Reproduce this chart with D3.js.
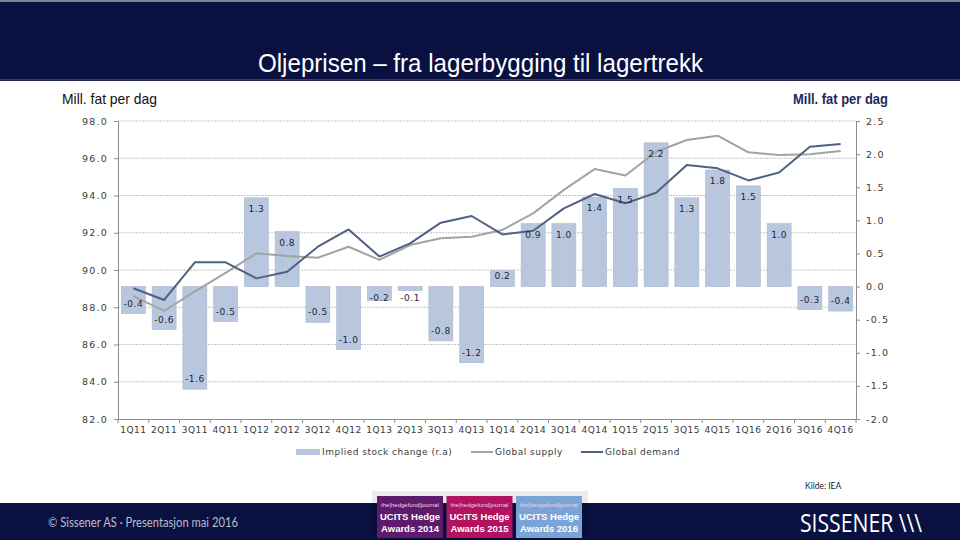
<!DOCTYPE html>
<html><head><meta charset="utf-8">
<script src="https://cdn.jsdelivr.net/npm/d3@7/dist/d3.min.js"></script>
<style>
html,body{margin:0;padding:0;background:#fff;}
svg{display:block;}
</style></head>
<body>
<svg id="chart" width="960" height="540"></svg>
<script>
// ---------- data ----------
const categories = ["1Q11","2Q11","3Q11","4Q11","1Q12","2Q12","3Q12","4Q12","1Q13","2Q13","3Q13","4Q13",
                    "1Q14","2Q14","3Q14","4Q14","1Q15","2Q15","3Q15","4Q15","1Q16","2Q16","3Q16","4Q16"];
const stockChange = [-0.41,-0.65,-1.55,-0.53,1.34,0.83,-0.54,-0.95,-0.21,-0.06,-0.82,-1.15,
                     0.24,0.95,0.95,1.35,1.48,2.17,1.34,1.76,1.52,0.95,-0.35,-0.37];
const stockLabels = ["-0.4","-0.6","-1.6","-0.5","1.3","0.8","-0.5","-1.0","-0.2","-0.1","-0.8","-1.2",
                     "0.2","0.9","1.0","1.4","1.5","2.2","1.3","1.8","1.5","1.0","-0.3","-0.4"];
const globalSupply = [88.60,87.80,88.85,89.85,90.90,90.75,90.66,91.25,90.54,91.34,91.70,91.79,
                      92.15,93.04,94.30,95.42,95.07,96.35,96.98,97.21,96.32,96.17,96.21,96.39];
const globalDemand = [89.02,88.39,90.41,90.41,89.55,89.91,91.25,92.18,90.72,91.43,92.54,92.90,
                      91.91,92.11,93.31,94.08,93.58,94.15,95.64,95.46,94.81,95.23,96.62,96.77];
const leftTicks = [82,84,86,88,90,92,94,96,98];
const rightTicks = [-2,-1.5,-1,-0.5,0,0.5,1,1.5,2,2.5];
const legendLabels = ["Implied stock change (r.a)","Global supply","Global demand"];
const titleText = "Oljeprisen – fra lagerbygging til lagertrekk";
const unitText = "Mill. fat per dag";
const sourceText = "Kilde: IEA";
const footerText = "© Sissener AS  · Presentasjon mai 2016";
const awardYears = ["2014","2015","2016"];

// ---------- layout ----------
const svg = d3.select("#chart");
const NAVY = "#0a1141";
const plot = {left:118, right:856, top:121, bottom:419};
const numFmt = v => d3.format(".1f")(v).replace("−","-");
const narrow = "'Liberation Sans',Arial,sans-serif";

// header
svg.append("rect").attr("x",0).attr("y",0).attr("width",960).attr("height",81).attr("fill",NAVY);
svg.append("rect").attr("x",0).attr("y",0).attr("width",960).attr("height",2).attr("fill","#7d8296");
svg.append("rect").attr("x",0).attr("y",79).attr("width",960).attr("height",1.5).attr("fill","#3b4266");
svg.append("text").attr("x",258).attr("y",72)
  .attr("font-family",narrow).attr("font-size",25)
  .attr("textLength",445).attr("lengthAdjust","spacingAndGlyphs")
  .attr("fill","#fff").text(titleText);

// unit labels
svg.append("text").attr("x",62).attr("y",104)
  .attr("font-family",narrow).attr("font-size",15)
  .attr("textLength",95).attr("lengthAdjust","spacingAndGlyphs")
  .attr("fill","#111").text(unitText);
svg.append("text").attr("x",793).attr("y",104)
  .attr("font-family",narrow).attr("font-size",14)
  .attr("textLength",95).attr("lengthAdjust","spacingAndGlyphs")
  .attr("font-weight","bold").attr("fill","#1b2a5c").text(unitText);

// scales
const x = d3.scaleBand().domain(categories).range([plot.left,plot.right]).paddingInner(0.22).paddingOuter(0.11);
const yL = d3.scaleLinear().domain([82,98]).range([plot.bottom,plot.top]);
const yR = d3.scaleLinear().domain([-2,2.5]).range([plot.bottom,plot.top]);

const tickFont = "'DejaVu Sans',Verdana,sans-serif";

// gridlines
svg.append("g").selectAll("line").data(leftTicks.filter(d=>d>82)).join("line")
  .attr("x1",plot.left).attr("x2",plot.right)
  .attr("y1",d=>yL(d)).attr("y2",d=>yL(d))
  .attr("stroke","#c4c4c4").attr("stroke-width",1).attr("stroke-dasharray","2,1");

// bars
const data = categories.map((c,i)=>({c, v:stockChange[i], lab:stockLabels[i], s:globalSupply[i], d:globalDemand[i]}));
svg.append("g").selectAll("rect").data(data).join("rect")
  .attr("x",d=>x(d.c)).attr("width",x.bandwidth())
  .attr("y",d=>Math.min(yR(d.v),yR(0))).attr("height",d=>Math.abs(yR(d.v)-yR(0)))
  .attr("fill","#b8c7dd").attr("stroke","#a7b7cf").attr("stroke-width",0.6);

// lines
const lineGen = acc => d3.line().x(d=>x(d.c)+x.bandwidth()/2).y(d=>yL(acc(d)));
svg.append("path").datum(data).attr("d",lineGen(d=>d.s)).attr("fill","none")
  .attr("stroke","#a3a3a3").attr("stroke-width",2).attr("stroke-linejoin","round");
svg.append("path").datum(data).attr("d",lineGen(d=>d.d)).attr("fill","none")
  .attr("stroke","#4f6183").attr("stroke-width",2).attr("stroke-linejoin","round");

// bar labels
svg.append("g").selectAll("text").data(data).join("text")
  .attr("x",d=>x(d.c)+x.bandwidth()/2)
  .attr("y",d=>{
    const z=yR(0);
    if(d.v>=0){ return Math.min(yR(d.v)+11, z-10.5); }
    return Math.max(yR(d.v)-10, z+11);
  })
  .attr("dy","0.35em").attr("text-anchor","middle")
  .attr("font-family",tickFont).attr("font-size",9).attr("letter-spacing",0.5)
  .attr("fill","#1e2438").text(d=>d.lab);

// axes
const axisColor = "#8c8c8c";
const gL = svg.append("g").attr("transform",`translate(${plot.left},0)`)
  .call(d3.axisLeft(yL).tickValues(leftTicks).tickFormat(numFmt).tickSize(4).tickPadding(6));
const gR = svg.append("g").attr("transform",`translate(${plot.right},0)`)
  .call(d3.axisRight(yR).tickValues(rightTicks).tickFormat(numFmt).tickSize(4).tickPadding(6));
const gB = svg.append("g").attr("transform",`translate(0,${plot.bottom})`)
  .call(d3.axisBottom(x).tickSize(0).tickPadding(8));
// band boundary ticks on bottom axis
svg.append("g").selectAll("line").data(d3.range(categories.length+1)).join("line")
  .attr("x1",i=>plot.left+i*x.step()).attr("x2",i=>plot.left+i*x.step())
  .attr("y1",plot.bottom).attr("y2",plot.bottom+4)
  .attr("stroke",axisColor);
[gL,gR,gB].forEach(g=>{
  g.select(".domain").attr("stroke",axisColor);
  g.selectAll(".tick line").attr("stroke",axisColor);
  g.selectAll("text").attr("font-family",tickFont).attr("fill","#3a3a3a");
});
gL.selectAll("text").attr("font-size",9.5).attr("letter-spacing",1.2);
gR.selectAll("text").attr("font-size",9.5).attr("letter-spacing",1.2);
gB.selectAll("text").attr("font-size",9).attr("letter-spacing",0.5);

// legend
const legY = 452;
const lg = svg.append("g").attr("font-family",tickFont).attr("font-size",9).attr("fill","#3a3a3a");
lg.append("rect").attr("x",296).attr("y",legY-3).attr("width",24).attr("height",6).attr("fill","#b8c7dd");
lg.append("text").attr("x",322).attr("y",legY).attr("dy","0.35em").attr("letter-spacing",0.5).text(legendLabels[0]);
lg.append("line").attr("x1",471).attr("x2",493).attr("y1",legY).attr("y2",legY).attr("stroke","#a3a3a3").attr("stroke-width",2);
lg.append("text").attr("x",495).attr("y",legY).attr("dy","0.35em").attr("letter-spacing",0.5).text(legendLabels[1]);
lg.append("line").attr("x1",581).attr("x2",603).attr("y1",legY).attr("y2",legY).attr("stroke","#4f6183").attr("stroke-width",2);
lg.append("text").attr("x",605).attr("y",legY).attr("dy","0.35em").attr("letter-spacing",0.5).text(legendLabels[2]);

// source
svg.append("text").attr("x",805).attr("y",489).attr("font-family","Lato,'Open Sans',sans-serif")
  .attr("font-size",8.5).attr("fill","#222").text(sourceText);

// footer
svg.append("rect").attr("x",0).attr("y",503).attr("width",960).attr("height",37).attr("fill",NAVY);
svg.append("text").attr("x",48).attr("y",527).attr("font-family","Lato,'Open Sans',sans-serif")
  .attr("font-size",13).attr("textLength",190).attr("lengthAdjust","spacingAndGlyphs")
  .attr("fill","#b9bdcc").text(footerText);
svg.append("text").attr("x",800).attr("y",532).attr("font-family","'Open Sans',Lato,sans-serif")
  .attr("font-size",25).attr("fill","#fff").attr("textLength",122).attr("lengthAdjust","spacingAndGlyphs")
  .text("SISSENER \\\\\\");

// award badges
const badgeColors = ["#5e1a6d","#b2125f","#7ba4d6"];
const badgeX = d3.scaleBand().domain(awardYears).range([377,582]).paddingInner(0.05);
const bg = svg.append("g");
bg.append("rect").attr("x",372).attr("y",491).attr("width",216).attr("height",49).attr("fill","#000").attr("opacity",0.08);
awardYears.forEach((yr,i)=>{
  const bx = badgeX(yr), bw = badgeX.bandwidth();
  bg.append("rect").attr("x",bx).attr("y",496).attr("width",bw).attr("height",42).attr("fill",badgeColors[i]);
  bg.append("text").attr("x",bx+bw/2).attr("y",507).attr("text-anchor","middle")
    .attr("font-family","'Liberation Sans',Arial,sans-serif").attr("font-size",6).attr("fill","#e6d7ea")
    .text("the|hedgefund|journal");
  bg.append("text").attr("x",bx+bw/2).attr("y",520).attr("text-anchor","middle")
    .attr("font-family","'Liberation Sans',Arial,sans-serif").attr("font-size",9.5).attr("font-weight","bold")
    .attr("fill","#fff").text("UCITS Hedge");
  bg.append("text").attr("x",bx+bw/2).attr("y",532).attr("text-anchor","middle")
    .attr("font-family","'Liberation Sans',Arial,sans-serif").attr("font-size",9.5).attr("font-weight","bold")
    .attr("fill","#fff").text("Awards " + yr);
});
</script>
</body></html>
